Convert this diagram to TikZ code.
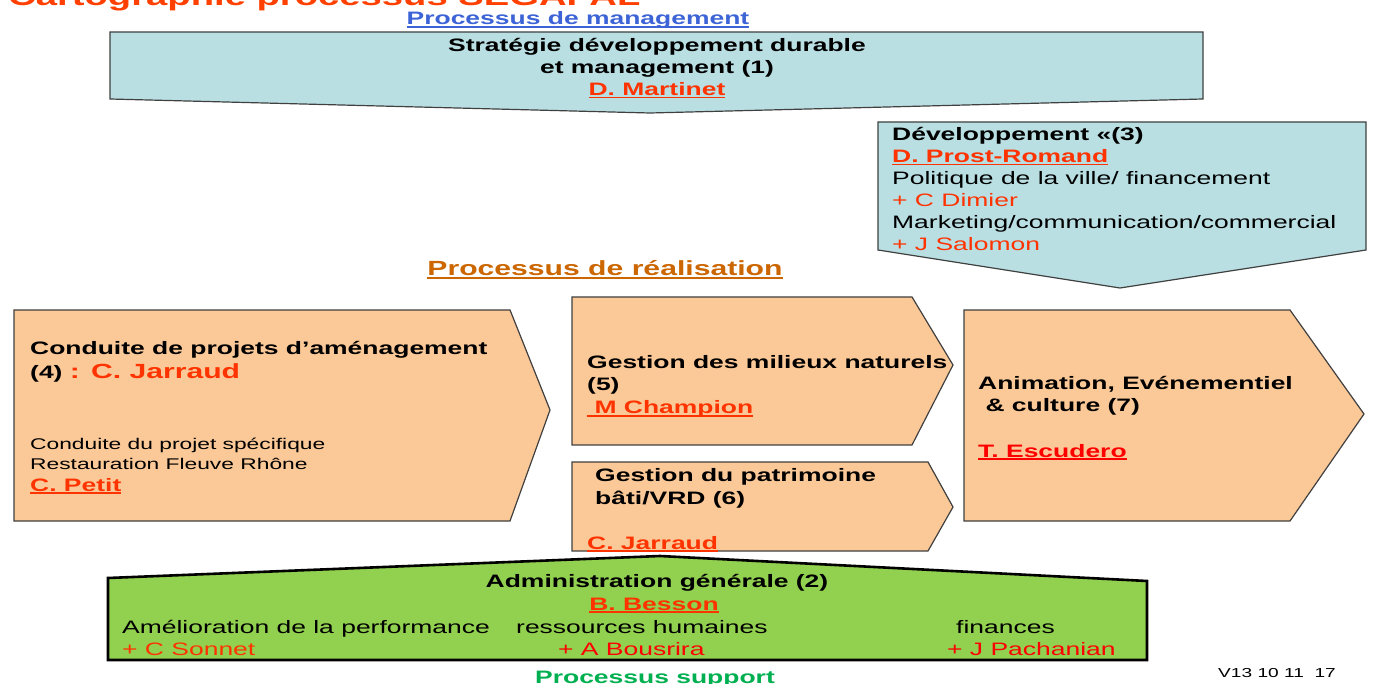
\documentclass[tikz,border=0pt]{standalone}
\usepackage{fontspec}
\setmainfont{Liberation Sans}[FakeStretch=1.47]
\usepackage{xcolor}
\usetikzlibrary{positioning}

\definecolor{mgmtblue}{RGB}{185,223,227}
\definecolor{peach}{RGB}{251,201,152}
\definecolor{supportgreen}{RGB}{146,208,80}
\definecolor{boxline}{RGB}{64,64,64}
\definecolor{namered}{RGB}{255,51,0}
\definecolor{titlered}{RGB}{255,64,0}
\definecolor{mgmttitle}{RGB}{60,100,215}
\definecolor{realtitle}{RGB}{204,102,0}
\definecolor{supporttitle}{RGB}{0,176,80}

% Thick underline in the current colour
\newcommand\undl[1]{\leavevmode\setbox0\hbox{#1}\copy0\kern-\wd0\rule[-2.8pt]{\wd0}{1.5pt}}

\begin{document}
\begin{tikzpicture}[
        %Units are the pixels of the sheet, y going down
        x=1pt, y=-1pt,
        mgmt box/.style={draw=boxline, fill=mgmtblue, line width=1.2pt},
        real box/.style={draw=boxline, fill=peach, line width=1.2pt},
        support box/.style={draw=black, fill=supportgreen, line width=2.6pt},
        txt/.style={inner sep=0pt, anchor=base west, font=\fontsize{18}{22}\selectfont},
        bold txt/.style={txt, font=\fontsize{18}{22}\selectfont\bfseries},
        block txt/.style={inner sep=0pt, anchor=north west, align=left, font=\fontsize{18}{22}\selectfont}
    ]
    % Person in charge, red and underlined
    \newcommand\resp[1]{\textcolor{namered}{\undl{#1}}}

    \useasboundingbox (0,0) rectangle (1374,684);
    \clip (0,0) rectangle (1374,684);

    % Sheet title, cut at the top
    \node[bold txt, text=titlered, font=\fontsize{26}{30}\selectfont\bfseries] (title) at (8,6) {Cartographie processus SEGAPAL};

    % Management
    \node[bold txt, anchor=base, text=mgmttitle] (mgmt) at (578,25) {\undl{Processus de management}};
    \draw[mgmt box] (110,32) -- (1203,32) -- (1203,99) -- (650,113) -- (110,99) -- cycle;
    \node[block txt, anchor=north, align=center, font=\fontsize{18}{22}\selectfont\bfseries] (strategy) at (657,38)
        {Stratégie développement durable\\ et management (1)\\ \resp{D. Martinet}};

    \draw[mgmt box] (878,122) -- (1366,122) -- (1366,250) -- (1120,288) -- (878,250) -- cycle;
    \node[block txt] (dev) at (892,127)
        {\textbf{Développement «(3)}\\ \resp{\textbf{D. Prost-Romand}}\\ Politique de la ville/ financement\\
         \textcolor{namered}{+ C Dimier}\\ Marketing/communication/commercial\\ \textcolor{namered}{+ J Salomon}};

    % Realisation
    \node[bold txt, anchor=base, text=realtitle, font=\fontsize{20.5}{24}\selectfont\bfseries] (real) at (605,276) {\undl{Processus de réalisation}};

    % (4)
    \draw[real box] (14,310) -- (510,310) -- (550,410) -- (510,521) -- (14,521) -- cycle;
    \node[bold txt] (proj) at (30,355) {Conduite de projets d’aménagement};
    \node[bold txt] (projnum) at (30,379) {(4) \textcolor{namered}{\fontsize{20.5}{24}\selectfont : C. Jarraud}};
    \node[block txt, font=\fontsize{15.5}{20}\selectfont] (rhone) at (30,438)
        {Conduite du projet spécifique\\ Restauration Fleuve Rhône};
    \node[bold txt] (petit) at (30,491) {\resp{C. Petit}};

    % (5)
    \draw[real box] (572,297) -- (912,297) -- (953,365) -- (912,445) -- (572,445) -- cycle;
    \node[bold txt] (nature) at (587,369) {Gestion des milieux naturels};
    \node[bold txt] (naturenum) at (587,391) {(5)};
    \node[bold txt] (champion) at (587,414) {\resp{\ M Champion}};

    % (6)
    \draw[real box] (572,462) -- (928,462) -- (953,507) -- (928,551) -- (572,551) -- cycle;
    \node[bold txt] (heritage) at (595,482) {Gestion du patrimoine};
    \node[bold txt] (heritagenum) at (595,504) {bâti/VRD (6)};
    \node[bold txt] (jarraud) at (587,549) {\resp{C. Jarraud}};

    % (7)
    \draw[real box] (964,310) -- (1290,310) -- (1364,414) -- (1290,521) -- (964,521) -- cycle;
    \node[bold txt] (event) at (978,390) {Animation, Evénementiel};
    \node[bold txt] (eventnum) at (978,412) {\ \& culture (7)};
    \node[bold txt] (escudero) at (978,457) {\textcolor{red}{\undl{T. Escudero}}};

    % Support
    \draw[support box] (108,660) -- (108,578) -- (660,556) -- (1147,581) -- (1147,660) -- cycle;
    \node[bold txt, anchor=base] (admin) at (657,587) {Administration générale (2)};
    \node[bold txt, anchor=base] (besson) at (654,610) {\resp{B. Besson}};
    \node[txt] (perf) at (122,633) {Amélioration de la performance};
    \node[txt] (rh) at (516,633) {ressources humaines};
    \node[txt] (fin) at (956,633) {finances};
    \node[txt, text=namered] (sonnet) at (122,655) {+ C Sonnet};
    \node[txt, text=red] (bousrira) at (558,655) {+ A Bousrira};
    \node[txt, text=red] (pachanian) at (947,655) {+ J Pachanian};

    \node[bold txt, anchor=base, text=supporttitle] (support) at (655,683) {Processus support};
    \node[txt, font=\fontsize{13}{15}\selectfont] (version) at (1218,677) {V13 10 11\ \ 17};
\end{tikzpicture}
\end{document}
